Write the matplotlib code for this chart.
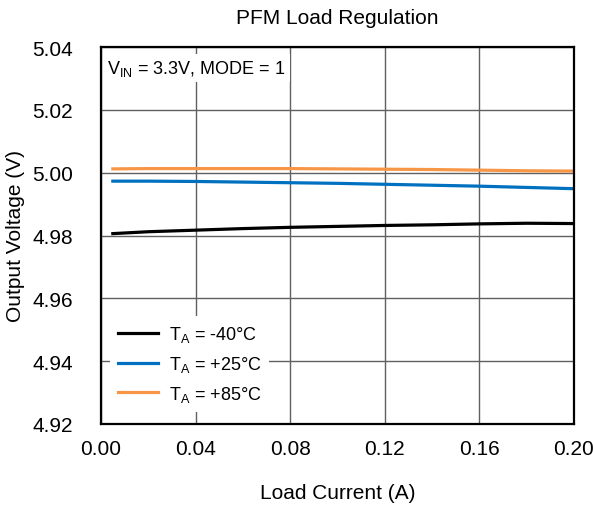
import numpy as np
import matplotlib.pyplot as plt

plt.rcParams['font.family'] = ['Liberation Sans', 'DejaVu Sans']

# Datos
current = [0.005, 0.02, 0.04, 0.06, 0.08, 0.10, 0.12, 0.14, 0.16, 0.18, 0.20]
v_m40 = [4.9806, 4.9812, 4.9817, 4.9822, 4.9826, 4.9829, 4.9832, 4.9834, 4.9837, 4.9839, 4.9838]
v_p25 = [4.9973, 4.9973, 4.9972, 4.9970, 4.9968, 4.9966, 4.9963, 4.9960, 4.9957, 4.9953, 4.9949]
v_p85 = [5.0012, 5.0013, 5.0013, 5.0013, 5.0013, 5.0012, 5.0011, 5.0010, 5.0008, 5.0006, 5.0005]

labels = ['T$_\\mathregular{A}$ = -40°C', 'T$_\\mathregular{A}$ = +25°C', 'T$_\\mathregular{A}$ = +85°C']
colors = ['#000000', '#0070c0', '#f79646']

fig = plt.figure(figsize=(5.93, 5.10), dpi=100)
ax = fig.add_axes([101 / 593, 85 / 510, 473 / 593, 377 / 510])

for v, lab, c in zip([v_m40, v_p25, v_p85], labels, colors):
    ax.plot(current, v, color=c, lw=2.3, label=lab)

ax.set_xlim(0, 0.2)
ax.set_ylim(4.92, 5.04)
ax.set_xticks(np.arange(0, 0.201, 0.04))
ax.set_yticks(np.arange(4.92, 5.041, 0.02))
ax.set_xticklabels(['0.00', '0.04', '0.08', '0.12', '0.16', '0.20'])
ax.set_yticklabels(['4.92', '4.94', '4.96', '4.98', '5.00', '5.02', '5.04'])
ax.tick_params(labelsize=15, length=0)
ax.tick_params(axis='x', pad=11)
ax.tick_params(axis='y', pad=20)
ax.grid(True, color='#606060', lw=1.0)
for s in ax.spines.values():
    s.set_color('black')
    s.set_linewidth(1.6)

ax.set_title('PFM Load Regulation', fontsize=15, pad=17)
ax.set_xlabel('Load Current (A)', fontsize=15, labelpad=18)
ax.set_ylabel('Output Voltage (V)', fontsize=15, labelpad=5)

ax.text(0.0025, 5.0317, 'V$_\\mathregular{IN}$ = 3.3V, MODE = 1',
        fontsize=13, va='baseline', ha='left',
        bbox=dict(facecolor='white', edgecolor='none', pad=3))

leg = ax.legend(loc='lower left', bbox_to_anchor=(0.019, 0.032), borderaxespad=0,
                fontsize=13, frameon=True, fancybox=False, edgecolor='none',
                framealpha=1, handlelength=2.2, handletextpad=0.6,
                borderpad=0.45, labelspacing=0.55)

fig.savefig('out.png', dpi=100)
